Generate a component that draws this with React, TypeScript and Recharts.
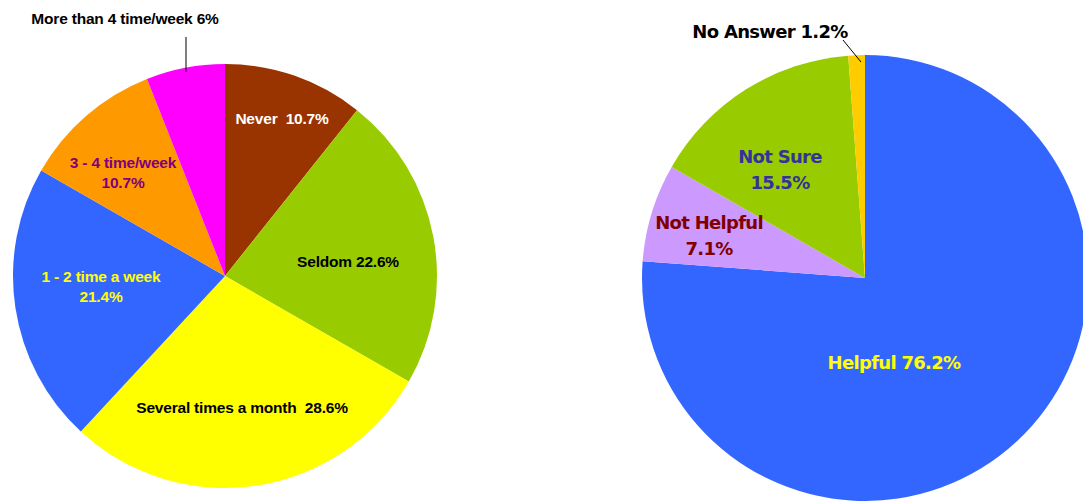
import React from 'react';
import { PieChart, Pie, Cell } from 'recharts';

// ---- Data ----
const leftCategories = ['Never', 'Seldom', 'Several times a month', '1 - 2 time a week', '3 - 4 time/week', 'More than 4 time/week'];
const leftValues = [10.7, 22.6, 28.6, 21.4, 10.7, 6];
const leftLabels = [
  ['Never  10.7%'],
  ['Seldom 22.6%'],
  ['Several times a month  28.6%'],
  ['1 - 2 time a week', '21.4%'],
  ['3 - 4 time/week', '10.7%'],
  ['More than 4 time/week 6%'],
];

const rightCategories = ['Helpful', 'Not Helpful', 'Not Sure', 'No Answer'];
const rightValues = [76.2, 7.1, 15.5, 1.2];
const rightLabels = [
  ['Helpful 76.2%'],
  ['Not Helpful', '7.1%'],
  ['Not Sure', '15.5%'],
  ['No Answer 1.2%'],
];

// ---- Styles ----
const leftColors = ['#993300', '#99CC00', '#FFFF00', '#3366FF', '#FF9900', '#FF00FF'];
const leftTextColors = ['#FFFFFF', '#000000', '#000000', '#FFFF00', '#800080', '#000000'];
const rightColors = ['#3366FF', '#CC99FF', '#99CC00', '#FFCC00'];
const rightTextColors = ['#FFFF00', '#800000', '#333399', '#000000'];

// label anchor offsets relative to pie centre (px), optional leader line
const leftLabelPos = [
  { dx: 57, dy: -158 },
  { dx: 123, dy: -15 },
  { dx: 17, dy: 131 },
  { dx: -124, dy: 0 },
  { dx: -102, dy: -114 },
  { dx: -100, dy: -258, line: [-39, -239, -39, -204] },
];
const rightLabelPos = [
  { dx: 29, dy: 84 },
  { dx: -156, dy: -56 },
  { dx: -85, dy: -122 },
  { dx: -95, dy: -247, line: [-22, -238, -4, -216] },
];

const leftData = leftCategories.map((name, i) => ({ name, value: leftValues[i] }));
const rightData = rightCategories.map((name, i) => ({ name, value: rightValues[i] }));

const L_CX = 225, L_CY = 276, L_R = 212;
const R_CX = 865, R_CY = 278, R_R = 223;

function makeLabel(
  labels: string[][], pos: any[], colors: string[], font: string, size: number,
  spacing: number, lineGap: number, fcx: number, fcy: number
) {
  return (props: any) => {
    const i = props.index;
    const cx = typeof props.cx === 'number' ? props.cx : fcx;
    const cy = typeof props.cy === 'number' ? props.cy : fcy;
    const p = pos[i];
    const lines = labels[i];
    return (
      <g key={`lbl-${i}`}>
        {p.line && (
          <line x1={cx + p.line[0]} y1={cy + p.line[1]} x2={cx + p.line[2]} y2={cy + p.line[3]} stroke="#000" strokeWidth={1} />
        )}
        {lines.map((t, k) => (
          <text
            key={k}
            x={cx + p.dx}
            y={cy + p.dy + k * lineGap}
            textAnchor="middle"
            dominantBaseline="central"
            fill={colors[i]}
            fontFamily={font}
            fontWeight="bold"
            fontSize={size}
            letterSpacing={spacing}
            style={{ whiteSpace: 'pre' }}
          >
            {t}
          </text>
        ))}
      </g>
    );
  };
}

export default function App() {
  return (
    <div style={{ position: 'absolute', left: 0, top: 0, width: 1083, height: 501, background: '#fff', overflow: 'hidden' }}>
      <PieChart width={1083} height={501} margin={{ top: 0, right: 0, bottom: 0, left: 0 }}>
        <Pie
          data={leftData}
          dataKey="value"
          nameKey="name"
          cx={L_CX}
          cy={L_CY}
          outerRadius={L_R}
          startAngle={90}
          endAngle={-270}
          stroke="none"
          isAnimationActive={false}
          labelLine={false}
          label={makeLabel(leftLabels, leftLabelPos, leftTextColors, '"Liberation Sans", Arial, sans-serif', 15.5, -0.2, 20, L_CX, L_CY)}
        >
          {leftData.map((d, i) => (
            <Cell key={d.name} fill={leftColors[i]} />
          ))}
        </Pie>
        <Pie
          data={rightData}
          dataKey="value"
          nameKey="name"
          cx={R_CX}
          cy={R_CY}
          outerRadius={R_R}
          startAngle={90}
          endAngle={-270}
          stroke="none"
          isAnimationActive={false}
          labelLine={false}
          label={makeLabel(rightLabels, rightLabelPos, rightTextColors, '"DejaVu Sans", Verdana, sans-serif', 18, -0.7, 26, R_CX, R_CY)}
        >
          {rightData.map((d, i) => (
            <Cell key={d.name} fill={rightColors[i]} />
          ))}
        </Pie>
      </PieChart>
    </div>
  );
}
